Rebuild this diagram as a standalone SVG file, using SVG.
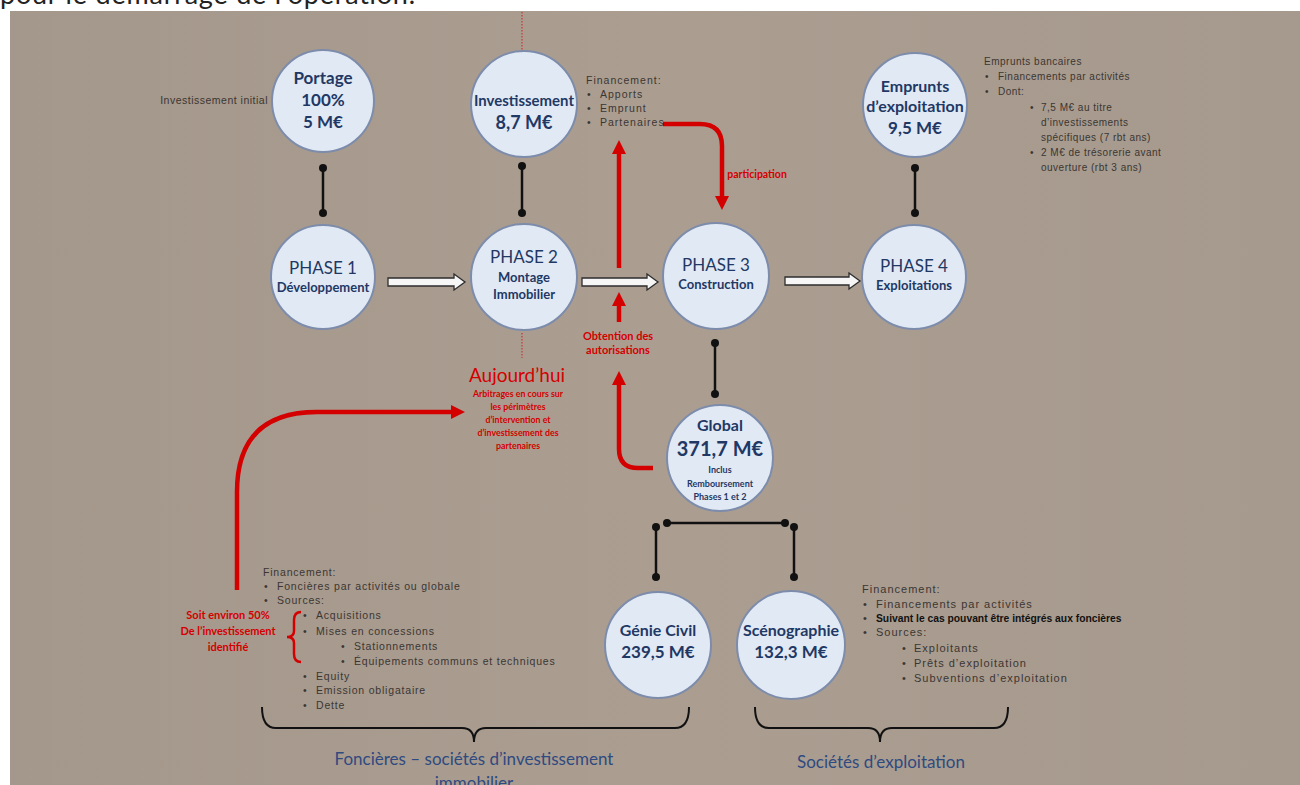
<svg xmlns="http://www.w3.org/2000/svg" width="1300" height="785" viewBox="0 0 1300 785">
<defs>
<linearGradient id="bg" x1="0" y1="0" x2="1" y2="0">
<stop offset="0" stop-color="#a4978b"/>
<stop offset="0.5" stop-color="#ab9e91"/>
<stop offset="1" stop-color="#a6998d"/>
</linearGradient>
<marker id="redHead" markerUnits="userSpaceOnUse" markerWidth="18" markerHeight="18" viewBox="0 0 18 18" refX="4" refY="9" orient="auto">
<path d="M0,2 L14,9 L0,16 Z" fill="#d40000"/>
</marker>
<style>
.circ{fill:#e1e9f5;stroke:#7d8cab;stroke-width:2}
.nt{font-family:"Lato","Liberation Sans",sans-serif;fill:#1f3864;text-anchor:middle}
.b{font-weight:bold}
.sm{font-family:"Liberation Sans","DejaVu Sans",sans-serif;font-size:10.5px;fill:#3b3632;letter-spacing:0.8px}
.red{font-family:"Lato","Liberation Sans",sans-serif;fill:#d40000;font-weight:bold;text-anchor:middle}
.blk{stroke:#111;stroke-width:2.5;fill:none}
.dot{fill:#111}
.redl{stroke:#d40000;fill:none;stroke-width:4.5}
.hollow{fill:#f6f6f6;stroke:#2d2d2d;stroke-width:1.3}
.dotted{stroke:#c23a3a;stroke-width:1.2;stroke-dasharray:1.5 1.5}
.brace{stroke:#111;stroke-width:2;fill:none}
.lbl{font-family:"Lato","Liberation Sans",sans-serif;fill:#2f4a80;font-size:17px;text-anchor:middle}
</style>
</defs>
<rect x="0" y="0" width="1300" height="785" fill="#ffffff"/>
<text x="0" y="4" font-family="Lato,'Liberation Sans',sans-serif" font-size="27" fill="#222" textLength="415">pour le démarrage de l'opération.</text>
<rect x="10" y="11" width="1290" height="774" fill="url(#bg)"/>

<g id="connectors">
<line class="dotted" x1="522" y1="12" x2="522" y2="50"/>
<line class="dotted" x1="522" y1="333" x2="522" y2="358"/>
<line class="blk" x1="323" y1="168" x2="323" y2="213"/>
<circle class="dot" cx="323" cy="168" r="4"/><circle class="dot" cx="323" cy="213" r="4"/>
<line class="blk" x1="522" y1="166" x2="522" y2="213"/>
<circle class="dot" cx="522" cy="166" r="4"/><circle class="dot" cx="522" cy="213" r="4"/>
<line class="blk" x1="915" y1="168" x2="915" y2="213"/>
<circle class="dot" cx="915" cy="168" r="4"/><circle class="dot" cx="915" cy="213" r="4"/>
<line class="blk" x1="715" y1="343" x2="715" y2="394"/>
<circle class="dot" cx="715" cy="343" r="4"/><circle class="dot" cx="715" cy="394" r="4"/>
<line class="blk" x1="667" y1="523" x2="785" y2="523"/>
<circle class="dot" cx="667" cy="523" r="4"/><circle class="dot" cx="785" cy="523" r="4"/>
<line class="blk" x1="656" y1="527" x2="656" y2="577"/>
<circle class="dot" cx="656" cy="527" r="4"/><circle class="dot" cx="656" cy="577" r="4"/>
<line class="blk" x1="794" y1="527" x2="794" y2="577"/>
<circle class="dot" cx="794" cy="527" r="4"/><circle class="dot" cx="794" cy="577" r="4"/>
<path class="hollow" d="M388,278 L454,278 L454,274 L465,282 L454,290 L454,286 L388,286 Z"/>
<path class="hollow" d="M582,278 L647,278 L647,274 L658,282 L647,290 L647,286 L582,286 Z"/>
<path class="hollow" d="M785,277 L849,277 L849,273 L860,281 L849,289 L849,285 L785,285 Z"/>
<path class="redl" d="M619,268 L619,150" marker-end="url(#redHead)"/>
<path class="redl" d="M619,322 L619,302" marker-end="url(#redHead)"/>
<path class="redl" d="M653,468 L638,468 Q619,468 619,449 L619,381" marker-end="url(#redHead)"/>
<path class="redl" d="M663,124 L700,124 Q722,124 722,146 L722,200" marker-end="url(#redHead)"/>
<path class="redl" stroke-width="6" d="M237,590 L237,492 Q237,412 317,412 L455,412" marker-end="url(#redHead)"/>
<path d="M301,612 Q294,612 294,620 L294,631 Q294,637 287,637 Q294,637 294,643 L294,654 Q294,662 301,662" stroke="#d40000" stroke-width="2.5" fill="none"/>
<path class="brace" d="M262,707 Q262,728 276,728 L462,728 Q474,728 474,742 Q474,728 486,728 L675,728 Q689,728 689,707"/>
<path class="brace" d="M755,707 Q755,728 769,728 L868,728 Q880,728 880,742 Q880,728 892,728 L994,728 Q1008,728 1008,707"/>
</g>

<g id="portage">
<circle class="circ" cx="323" cy="101" r="51"/>
<text class="nt b" x="323" y="84" font-size="17">Portage</text>
<text class="nt b" x="323" y="106" font-size="17">100%</text>
<text class="nt b" x="323" y="128" font-size="17">5 M€</text>
</g>
<g id="investissement">
<circle class="circ" cx="524" cy="104" r="53"/>
<text class="nt b" x="524" y="106" font-size="16" textLength="100" lengthAdjust="spacingAndGlyphs">Investissement</text>
<text class="nt b" x="524" y="129" font-size="18">8,7 M€</text>
</g>
<g id="emprunts">
<circle class="circ" cx="915" cy="105" r="52"/>
<text class="nt b" x="915" y="92" font-size="16">Emprunts</text>
<text class="nt b" x="915" y="112" font-size="16">d’exploitation</text>
<text class="nt b" x="915" y="134" font-size="17">9,5 M€</text>
</g>
<g id="phase1">
<circle class="circ" cx="323" cy="277" r="52"/>
<text class="nt" x="323" y="274" font-size="17">PHASE 1</text>
<text class="nt b" x="323" y="292" font-size="13">Développement</text>
</g>
<g id="phase2">
<circle class="circ" cx="524" cy="277" r="53"/>
<text class="nt" x="524" y="263" font-size="17">PHASE 2</text>
<text class="nt b" x="524" y="282" font-size="13">Montage</text>
<text class="nt b" x="524" y="299" font-size="13">Immobilier</text>
</g>
<g id="phase3">
<circle class="circ" cx="716" cy="276" r="53"/>
<text class="nt" x="716" y="271" font-size="17">PHASE 3</text>
<text class="nt b" x="716" y="289" font-size="13">Construction</text>
</g>
<g id="phase4">
<circle class="circ" cx="914" cy="277" r="52"/>
<text class="nt" x="914" y="272" font-size="17">PHASE 4</text>
<text class="nt b" x="914" y="290" font-size="13">Exploitations</text>
</g>
<g id="global">
<circle class="circ" cx="720" cy="458" r="53"/>
<text class="nt b" x="720" y="431" font-size="16">Global</text>
<text class="nt b" x="720" y="456" font-size="20">371,7 M€</text>
<text class="nt b" x="720" y="473" font-size="9">Inclus</text>
<text class="nt b" x="720" y="487" font-size="9">Remboursement</text>
<text class="nt b" x="720" y="500" font-size="9">Phases 1 et 2</text>
</g>
<g id="genie-civil">
<circle class="circ" cx="658" cy="645" r="53"/>
<text class="nt b" x="658" y="636" font-size="16">Génie Civil</text>
<text class="nt b" x="658" y="658" font-size="17">239,5 M€</text>
</g>
<g id="scenographie">
<circle class="circ" cx="791" cy="645" r="54"/>
<text class="nt b" x="791" y="636" font-size="16">Scénographie</text>
<text class="nt b" x="791" y="658" font-size="17">132,3 M€</text>
</g>

<g id="texts">
<text class="sm" x="268" y="104" text-anchor="end" style="letter-spacing:0.5px">Investissement initial</text>
<g class="sm" style="letter-spacing:1px">
<text x="586" y="84">Financement:</text>
<text x="587" y="98">•</text><text x="600" y="98">Apports</text>
<text x="587" y="112">•</text><text x="600" y="112">Emprunt</text>
<text x="587" y="126">•</text><text x="600" y="126">Partenaires</text>
</g>
<text class="red" x="757" y="178" font-size="10.5">participation</text>
<g class="sm" style="font-size:10px;letter-spacing:0.5px">
<text x="984" y="65">Emprunts bancaires</text>
<text x="985" y="80">•</text><text x="998" y="80">Financements par activités</text>
<text x="985" y="95">•</text><text x="998" y="95">Dont:</text>
<text x="1030" y="111">•</text><text x="1041" y="111">7,5 M€ au titre</text>
<text x="1041" y="126">d’investissements</text>
<text x="1041" y="141">spécifiques (7 rbt ans)</text>
<text x="1030" y="156">•</text><text x="1041" y="156">2 M€ de trésorerie avant</text>
<text x="1041" y="171">ouverture (rbt 3 ans)</text>
</g>
<text class="red" x="618" y="340" font-size="11">Obtention des</text>
<text class="red" x="618" y="354" font-size="11">autorisations</text>
<text class="red" x="517" y="382" font-size="19" style="font-weight:normal">Aujourd’hui</text>
<g class="red" font-size="8.8">
<text x="518" y="397">Arbitrages en cours sur</text>
<text x="518" y="410">les périmètres</text>
<text x="518" y="423">d’intervention et</text>
<text x="518" y="436">d’investissement des</text>
<text x="518" y="449">partenaires</text>
</g>
<g class="red" font-size="11">
<text x="228" y="619">Soit environ 50%</text>
<text x="228" y="635">De l’investissement</text>
<text x="228" y="651">identifié</text>
</g>
<g class="sm">
<text x="263" y="576">Financement:</text>
<text x="264" y="590">•</text><text x="277" y="590">Foncières par activités ou globale</text>
<text x="264" y="604">•</text><text x="277" y="604">Sources:</text>
<text x="303" y="619">•</text><text x="316" y="619">Acquisitions</text>
<text x="303" y="635">•</text><text x="316" y="635">Mises en concessions</text>
<text x="341" y="650">•</text><text x="354" y="650">Stationnements</text>
<text x="341" y="665">•</text><text x="354" y="665">Équipements communs et techniques</text>
<text x="303" y="680">•</text><text x="316" y="680">Equity</text>
<text x="303" y="694">•</text><text x="316" y="694">Emission obligataire</text>
<text x="303" y="709">•</text><text x="316" y="709">Dette</text>
</g>
<g class="sm" style="font-size:11px;letter-spacing:1px">
<text x="862" y="593">Financement:</text>
<text x="863" y="608">•</text><text x="876" y="608">Financements par activités</text>
<text x="863" y="622">•</text><text x="876" y="622" style="font-weight:bold;fill:#111;font-size:10.3px;letter-spacing:0">Suivant le cas pouvant être intégrés aux foncières</text>
<text x="863" y="636">•</text><text x="876" y="636">Sources:</text>
<text x="902" y="652">•</text><text x="914" y="652">Exploitants</text>
<text x="902" y="667">•</text><text x="914" y="667">Prêts d’exploitation</text>
<text x="902" y="682">•</text><text x="914" y="682">Subventions d’exploitation</text>
</g>
<text class="lbl" x="474" y="765">Foncières – sociétés d’investissement</text>
<text class="lbl" x="474" y="789">immobilier</text>
<text class="lbl" x="881" y="768">Sociétés d’exploitation</text>
</g>
</svg>
